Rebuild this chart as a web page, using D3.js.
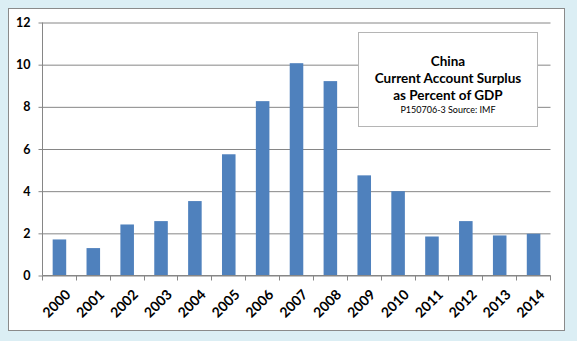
<!DOCTYPE html>
<html>
<head>
<meta charset="utf-8">
<script src="https://cdn.jsdelivr.net/npm/d3@7"></script>
<style>
  html, body { margin: 0; padding: 0; background: #dbeef4; }
  svg { display: block; }
  text { font-family: Lato, "Open Sans", sans-serif; fill: #000; }
</style>
</head>
<body>
<svg id="chart" width="577" height="341"></svg>
<script>
// China current account surplus, % of GDP (IMF)
const years = ["2000","2001","2002","2003","2004","2005","2006","2007",
               "2008","2009","2010","2011","2012","2013","2014"];
const surplus = [1.71, 1.3, 2.42, 2.58, 3.53, 5.75, 8.27, 10.07,
                 9.22, 4.75, 4.0, 1.85, 2.58, 1.9, 1.98];
const yTicks = [0, 2, 4, 6, 8, 10, 12];
const titleLines = ["China", "Current Account Surplus", "as Percent of GDP"];
const sourceNote = "P150706-3 Source: IMF";

const svg = d3.select("#chart");

// chart area frame
svg.append("rect")
  .attr("x", 8.5).attr("y", 8.5)
  .attr("width", 556).attr("height", 322)
  .attr("fill", "#fff").attr("stroke", "#8a8a8a").attr("stroke-width", 1);

const plot = { left: 42.5, right: 550.5, top: 22.5, bottom: 275.5 };

const x = d3.scaleBand()
  .domain(years)
  .range([plot.left, plot.right])
  .paddingInner(0.6)
  .paddingOuter(0.3);

const y = d3.scaleLinear()
  .domain([0, 12])
  .range([plot.bottom, plot.top]);

// horizontal gridlines and y axis
const yAxis = d3.axisLeft(y)
  .tickValues(yTicks)
  .tickSize(-(plot.right - plot.left))
  .tickSizeOuter(0)
  .tickPadding(12);

const gy = svg.append("g")
  .attr("transform", `translate(${plot.left},0)`)
  .call(yAxis);
gy.select(".domain").remove();
gy.selectAll(".tick line")
  .attr("x1", -4)
  .attr("stroke", "#868686");
gy.selectAll(".tick text")
  .attr("font-size", 12.5)
  .attr("font-weight", "bold")
  .attr("font-family", "Lato, sans-serif")
  .attr("fill", "#000");

// bars
svg.append("g")
  .selectAll("rect")
  .data(years.map((yr, i) => ({ yr, v: surplus[i] })))
  .join("rect")
  .attr("x", d => x(d.yr))
  .attr("width", x.bandwidth())
  .attr("y", d => y(d.v))
  .attr("height", d => y(0) - y(d.v))
  .attr("fill", "#4f81bd");

// vertical axis line
svg.append("line")
  .attr("x1", plot.left).attr("x2", plot.left)
  .attr("y1", plot.top).attr("y2", plot.bottom)
  .attr("stroke", "#868686");

// category axis: line, boundary ticks, rotated labels
const gx = svg.append("g");
gx.append("line")
  .attr("x1", plot.left).attr("x2", plot.right)
  .attr("y1", plot.bottom).attr("y2", plot.bottom)
  .attr("stroke", "#868686");

const step = x.step();
const x0 = x(years[0]) - x.paddingOuter() * step;
const boundaries = d3.range(years.length + 1).map(i => x0 + i * step);
gx.selectAll("line.tk")
  .data(boundaries)
  .join("line")
  .attr("class", "tk")
  .attr("x1", d => Math.round(d - 0.5) + 0.5)
  .attr("x2", d => Math.round(d - 0.5) + 0.5)
  .attr("y1", plot.bottom)
  .attr("y2", plot.bottom + 5)
  .attr("stroke", "#868686");

gx.selectAll("text")
  .data(years)
  .join("text")
  .attr("transform", d => `translate(${x(d) + x.bandwidth() / 2 + 5},${plot.bottom + 13}) rotate(-45)`)
  .attr("text-anchor", "end")
  .attr("dy", "0.7em")
  .attr("font-size", 14)
  .attr("font-weight", "bold")
  .text(d => d);

// title box
const box = { x: 358.5, y: 32.5, w: 179, h: 94 };
svg.append("rect")
  .attr("x", box.x).attr("y", box.y)
  .attr("width", box.w).attr("height", box.h)
  .attr("fill", "#fff").attr("stroke", "#b5b5b5");

const cx = box.x + box.w / 2;
const lineY = [66, 83, 100];
titleLines.forEach((t, i) => {
  svg.append("text")
    .attr("x", cx).attr("y", lineY[i])
    .attr("text-anchor", "middle")
    .attr("font-size", 13.5)
    .attr("font-weight", "bold")
    .text(t);
});
svg.append("text")
  .attr("x", cx).attr("y", 113)
  .attr("text-anchor", "middle")
  .attr("font-size", 9)
  .text(sourceNote);
</script>
</body>
</html>
